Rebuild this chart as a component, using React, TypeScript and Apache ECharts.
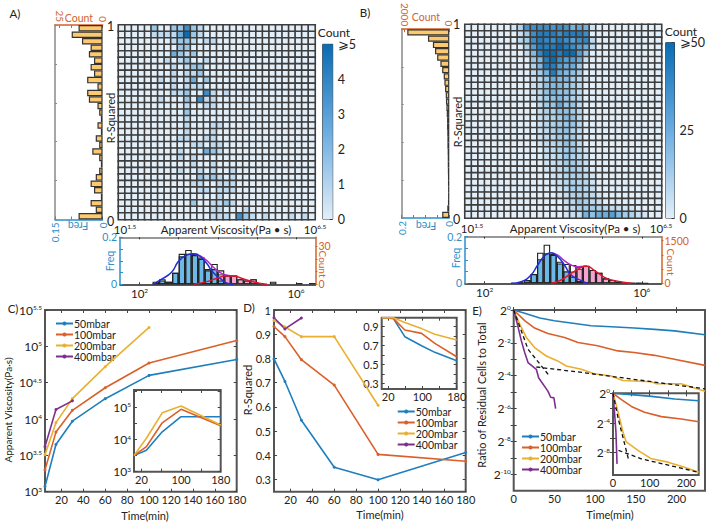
import React, { useEffect, useRef } from "react";
import * as echarts from "echarts";

const FONT = "Lato, 'Noto Sans', sans-serif";
const BLUE = "#2f8fc9";
const ORANGE = "#d2622f";
const C50 = "#1f7fbd";
const C100 = "#d9602a";
const C200 = "#e9b02f";
const C400 = "#7e2f8e";
const LEGEND = ["50mbar", "100mbar", "200mbar", "400mbar"];

// Heatmap rows, top (R-squared 1) to bottom (R-squared 0): {column: count}
const heatA: Record<number, number>[] = [
  { 5: 2, 8: 2, 9: 2, 10: 4, 11: 2, 12: 1 },
  { 5: 1, 6: 1, 7: 1, 8: 1, 9: 3, 10: 5, 11: 2, 12: 1 },
  { 8: 1, 9: 2, 10: 2, 11: 1, 13: 1, 14: 1 },
  { 9: 2, 10: 2 },
  { 8: 3, 9: 2, 10: 1, 11: 2 },
  { 7: 1, 9: 1, 10: 2, 13: 1 },
  { 8: 1, 10: 1, 11: 2, 12: 2 },
  { 8: 1, 10: 1, 11: 1, 12: 2 },
  { 6: 1, 8: 1, 10: 1, 11: 3, 13: 2 },
  { 8: 1, 10: 1, 11: 1, 12: 1 },
  { 8: 1, 9: 1, 10: 2, 13: 4, 14: 1, 16: 1 },
  { 6: 1, 10: 2, 12: 4, 13: 1, 14: 1 },
  { 10: 1, 13: 1, 14: 1 },
  { 10: 2 },
  { 10: 1 },
  { 10: 1, 14: 1, 15: 1 },
  { 10: 1, 14: 1 },
  { 9: 1, 10: 1, 13: 1, 14: 1 },
  { 11: 1, 12: 1, 14: 1, 15: 1 },
  { 9: 1, 13: 3, 14: 2, 15: 1 },
  { 9: 1, 11: 1 },
  { 11: 1, 14: 1 },
  { 9: 1, 12: 1, 14: 1, 17: 1 },
  { 12: 2, 13: 1, 14: 2, 15: 1, 17: 1 },
  { 11: 1, 12: 1, 15: 1, 16: 1, 17: 1 },
  { 12: 1, 13: 1, 15: 1, 16: 1, 17: 1 },
  { 15: 1 },
  { 11: 2, 14: 1, 15: 1, 16: 2, 17: 1 },
  { 14: 1, 15: 1, 19: 1 },
  { 14: 1, 15: 1, 16: 1, 18: 4, 19: 2, 20: 1, 22: 1, 26: 1, 28: 1 },
];
const heatB: Record<number, number>[] = [
  { 7: 5, 8: 15, 9: 38, 10: 40, 11: 40, 12: 40, 13: 38, 14: 40, 15: 38, 16: 28, 17: 32, 18: 28, 19: 6 },
  { 8: 8, 9: 18, 10: 40, 11: 45, 12: 45, 13: 45, 14: 40, 15: 45, 16: 45, 17: 45, 18: 40 },
  { 8: 12, 9: 18, 10: 40, 11: 45, 12: 42, 13: 40, 14: 45, 15: 40, 16: 35, 17: 40, 18: 42, 19: 10 },
  { 9: 15, 10: 35, 11: 45, 12: 45, 13: 45, 14: 50, 15: 45, 16: 40, 17: 35, 18: 30, 19: 10 },
  { 9: 8, 10: 25, 11: 42, 12: 50, 13: 50, 14: 45, 15: 50, 16: 50, 17: 35, 18: 20 },
  { 10: 20, 11: 25, 12: 45, 13: 50, 14: 40, 15: 35, 16: 35, 17: 30, 18: 8 },
  { 10: 15, 11: 25, 12: 45, 13: 45, 14: 35, 15: 30, 16: 30, 17: 18 },
  { 10: 10, 11: 18, 12: 28, 13: 45, 14: 30, 15: 25, 16: 22, 17: 18 },
  { 10: 8, 11: 12, 12: 20, 13: 30, 14: 25, 15: 25, 16: 18, 17: 12, 18: 5 },
  { 10: 8, 11: 12, 12: 22, 13: 25, 14: 25, 15: 20, 16: 18, 17: 12 },
  { 10: 6, 11: 12, 12: 22, 13: 28, 14: 22, 15: 22, 16: 18, 17: 10 },
  { 10: 5, 11: 10, 12: 18, 13: 22, 14: 25, 15: 20, 16: 15, 17: 12 },
  { 11: 10, 12: 18, 13: 20, 14: 32, 15: 20, 16: 20, 17: 10 },
  { 11: 8, 12: 15, 13: 15, 14: 22, 15: 22, 16: 18, 17: 12 },
  { 11: 8, 12: 12, 13: 15, 14: 18, 15: 25, 16: 22, 17: 12 },
  { 11: 6, 12: 12, 13: 15, 14: 18, 15: 20, 16: 20, 17: 12 },
  { 11: 6, 12: 10, 13: 15, 14: 20, 15: 22, 16: 15, 17: 10 },
  { 11: 6, 12: 10, 13: 12, 14: 18, 15: 18, 16: 18, 17: 10 },
  { 11: 5, 12: 10, 13: 12, 14: 15, 15: 22, 16: 18, 17: 10 },
  { 12: 8, 13: 10, 14: 15, 15: 18, 16: 20, 17: 12, 18: 5 },
  { 12: 8, 13: 8, 14: 12, 15: 20, 16: 15, 17: 12, 18: 6 },
  { 12: 6, 13: 8, 14: 10, 15: 18, 16: 18, 17: 14, 18: 8 },
  { 12: 5, 13: 6, 14: 10, 15: 15, 16: 18, 17: 14, 18: 8 },
  { 13: 6, 14: 8, 15: 14, 16: 15, 17: 15, 18: 10, 19: 5 },
  { 13: 5, 14: 8, 15: 12, 16: 16, 17: 14, 18: 12, 19: 6 },
  { 14: 6, 15: 10, 16: 16, 17: 16, 18: 12, 19: 8 },
  { 14: 5, 15: 8, 16: 14, 17: 16, 18: 14, 19: 10, 20: 5 },
  { 15: 8, 16: 12, 17: 20, 18: 16, 19: 12, 20: 8 },
  { 15: 6, 16: 10, 17: 16, 18: 18, 19: 18, 20: 15, 21: 12, 22: 10, 23: 8, 24: 6, 25: 5 },
  { 15: 5, 16: 8, 17: 10, 18: 28, 19: 22, 20: 30, 21: 30, 22: 35, 23: 25, 24: 18, 25: 15, 26: 8, 27: 5 },
];

// Side histograms, top to bottom
const sideA = [14, 18, 12, 7, 8, 5, 7, 5, 9, 3, 9, 8, 3, 2, 1, 3, 1, 4, 2, 6, 2, 1, 2, 4, 7, 5, 1, 7, 4, 14];
const sideB = [1885, 957, 736, 640, 545, 400, 320, 250, 220, 190, 160, 150, 130, 115, 100, 100, 90, 85, 85, 75, 70, 70, 65, 60, 60, 55, 55, 60, 90, 320];

// Lower histograms, 30 bins
const totalA = [0, 0, 0, 0, 0, 2, 4, 2, 9, 24, 27, 24, 21, 12, 16, 11, 7, 7, 4, 3, 4, 1, 0, 2, 0, 0, 0, 1, 0, 1];
const blueA = [0, 0, 0, 0, 0, 1, 3, 2, 9, 22, 24, 23, 20, 11, 12, 3, 0, 0, 0, 0, 0, 0, 0, 0, 0, 0, 0, 0, 0, 0];
const pinkA = [0, 0, 0, 0, 0, 0, 0, 0, 0, 0, 0, 1, 2, 6, 8, 8, 7, 7, 4, 3, 4, 1, 0, 0, 0, 0, 0, 0, 0, 0];
const totalB = [0, 0, 0, 0, 0, 0, 0, 0, 35, 117, 328, 1078, 1359, 1031, 761, 680, 645, 586, 609, 469, 375, 176, 117, 59, 35, 23, 10, 5, 0, 0];
const blueB = [0, 0, 0, 0, 0, 0, 0, 0, 30, 110, 320, 850, 1060, 1000, 700, 420, 230, 80, 0, 0, 0, 0, 0, 0, 0, 0, 0, 0, 0, 0];
const pinkB = [0, 0, 0, 0, 0, 0, 0, 0, 0, 0, 0, 0, 0, 50, 100, 260, 415, 506, 609, 469, 375, 176, 117, 59, 35, 0, 0, 0, 0, 0];

// Fit curves: [log10 viscosity, count]
const fitBlueA = [[2.35, 0], [2.53, 3.4], [2.82, 9.5], [2.99, 17.9], [3.17, 22.6], [3.38, 24.1], [3.55, 22], [3.72, 16.3], [3.89, 9], [4.06, 4.7], [4.24, 0.8], [4.41, 0]];
const fitRedA = [[3.38, 0], [3.72, 2.1], [3.98, 4.7], [4.24, 6.8], [4.41, 6.5], [4.66, 4.2], [5, 1.3], [5.26, 0]];
const fitMixA = [[3.38, 24.1], [3.55, 22.3], [3.72, 18.6], [3.89, 13.4], [4.06, 9.2], [4.24, 7.1], [4.41, 6.5]];
const fitBlueB = [[2.67, 0], [2.93, 59], [3.18, 293], [3.35, 644], [3.52, 960], [3.69, 1078], [3.86, 937], [4.03, 644], [4.2, 293], [4.46, 94], [4.63, 0]];
const fitRedB = [[3.69, 0], [3.95, 117], [4.2, 351], [4.46, 562], [4.59, 609], [4.8, 445], [5.05, 211], [5.31, 94], [5.73, 0]];
const fitMixB = [[3.69, 1078], [3.86, 994], [4.03, 795], [4.2, 643], [4.37, 586], [4.59, 609]];

// Panel C: log10 viscosity
const timeC = [5, 15, 30, 60, 100, 180];
const c50 = [3.07, 3.65, 3.97, 4.28, 4.6, 4.82];
const c100 = [3.3, 3.82, 4.12, 4.43, 4.77, 5.08];
const c200 = [3.51, 3.95, 4.28, 4.72, 5.26];
const c400 = [3.62, 4.13, 4.25];
const timeCi = [5, 30, 62, 100, 180];
const c50i = [3.5, 3.67, 4.24, 4.71, 4.71];
const c100i = [3.5, 3.78, 4.52, 4.94, 4.43];
const c200i = [3.5, 4.04, 4.83, 5.04, 4.45];

// Panel D: R-squared
const d50 = [0.798, 0.705, 0.545, 0.351, 0.299, 0.412];
const d100 = [0.932, 0.89, 0.795, 0.69, 0.404, 0.376];
const d200 = [0.957, 0.93, 0.89, 0.89, 0.607];
const d400 = [0.968, 0.922, 0.967];
const timeDi = [5, 32, 59, 98, 129, 180];
const d50i = [0.995, 0.988, 0.795, 0.7, 0.63, 0.542];
const d100i = [0.995, 0.988, 0.865, 0.83, 0.725, 0.584];
const d200i = [0.995, 0.995, 0.945, 0.88, 0.82, 0.76];

// Panel E: log2 ratio
const e50t = [0, 13.5, 32, 50, 75, 95, 120, 148, 173, 197.4, 235];
const e50 = [0, -0.2, -0.49, -0.65, -0.82, -0.96, -1.02, -1.1, -1.18, -1.27, -1.51];
const e100t = [0, 13.5, 25.7, 42, 62.5, 79, 103, 128, 148, 173, 197.4, 235];
const e100 = [0, -0.65, -1.1, -1.43, -1.67, -1.98, -2.18, -2.49, -2.59, -2.76, -3, -3.37];
const e200t = [0, 7.4, 15.5, 25.7, 40, 54, 64.6, 83, 99, 120, 134, 169, 175, 205.6, 235];
const e200 = [0, -0.86, -1.67, -2.29, -2.8, -3.1, -3.41, -3.61, -3.88, -4.02, -4.29, -4.37, -4.49, -4.49, -4.94];
const e400t = [0, 4.5, 9.4, 13.5, 17.6, 27.8, 30.6, 42, 45.4, 49.4, 51.5];
const e400 = [0, -0.86, -1.88, -2.59, -3.2, -3.61, -4.12, -4.94, -5.31, -5.35, -6];
const eFit1t = [0, 17.6, 44];
const eFit1 = [0, -2.39, -4.02];
const eFit2t = [27.8, 87, 235];
const eFit2 = [-3.47, -3.82, -4.8];
const e50it = [0, 50, 105, 168, 234];
const e50i = [0, -0.18, -0.41, -0.77, -1];
const e100it = [0, 23, 50, 86, 132, 186, 234];
const e100i = [0, -0.86, -1.77, -2.55, -3.14, -3.45, -3.82];
const e200it = [0, 11, 27, 36, 68, 105, 150, 195, 234];
const e200i = [0, -2, -5.18, -6.55, -7.68, -8.82, -9.27, -9.95, -10.64];
const e400it = [0, 4, 8, 11];
const e400i = [0, -2.45, -5.2, -9.5];
const eFit1it = [0, 14, 43];
const eFit1i = [0, -3.36, -9.05];
const eFit2it = [15, 77, 234];
const eFit2i = [-7.68, -8.82, -10.64];

const idx30 = Array.from({ length: 30 }, (_, i) => i);
const sup = (b: string, s: string | number) => `{b|${b}}{s|${s}}`;
const richFor = (size = 12, sizeS = 6.5) => ({
  b: { fontSize: size, fontFamily: FONT, color: "#222" },
  s: { fontSize: sizeS, fontFamily: FONT, color: "#222", verticalAlign: "top" },
});
const zip = (x: number[], y: number[]) => x.map((v, i) => [v, y[i]]);
const plain = (v: number) => `${v}`;

function buildOption() {
  const grid: any[] = [];
  const xAxis: any[] = [];
  const yAxis: any[] = [];
  const series: any[] = [];
  const graphic: any[] = [];
  const visualMap: any[] = [];
  const legend: any[] = [];

  const text = (t: string, x: number, y: number, o: any = {}) =>
    graphic.push({
      type: "text",
      x,
      y,
      rotation: o.rot ?? 0,
      silent: true,
      style: {
        text: t,
        fontSize: o.size ?? 11.5,
        fontFamily: FONT,
        fill: o.color ?? "#222",
        align: "center",
        verticalAlign: "middle",
        rich: o.rich,
      },
    });

  const hiddenCat = (gridIndex: number, extra: any = {}) => ({
    type: "category",
    gridIndex,
    data: idx30,
    axisLine: { show: false },
    axisTick: { show: false },
    axisLabel: { show: false },
    splitLine: { show: false },
    ...extra,
  });

  function heat(left: number, top: number, w: number, h: number, rows: Record<number, number>[], max: number) {
    const g = grid.length;
    const xi = xAxis.length;
    const yi = yAxis.length;
    grid.push({ left, top, width: w, height: h });
    xAxis.push(hiddenCat(g));
    yAxis.push(hiddenCat(g, { inverse: true }));
    const data: number[][] = [];
    rows.forEach((row, r) => idx30.forEach((c) => data.push([c, r, row[c] ?? 0])));
    visualMap.push({
      show: false,
      min: 0,
      max,
      dimension: 2,
      seriesIndex: series.length,
      inRange: { color: ["#e2eef8", "#a9cfea", "#5ea5d8", "#0a6cb3"] },
    });
    series.push({
      type: "heatmap",
      xAxisIndex: xi,
      yAxisIndex: yi,
      data,
      itemStyle: { borderColor: "#3d3d3d", borderWidth: 1.6 },
      emphasis: { disabled: true },
    });
  }

  function colorbar(left: number, top: number, h: number, max: number, labels: number[], ticks: number[]) {
    const g = grid.length;
    const xi = xAxis.length;
    const yi = yAxis.length;
    grid.push({ left, top, width: 10, height: h, show: true, borderColor: "#333", borderWidth: 1 });
    xAxis.push({ type: "category", gridIndex: g, data: ["c"], show: false });
    yAxis.push({
      type: "value",
      gridIndex: g,
      min: 0,
      max,
      position: "right",
      splitLine: { show: false },
      axisLine: { show: false },
      axisTick: { show: true, inside: true, length: 3, customValues: ticks, lineStyle: { color: "#333" } },
      axisLabel: {
        customValues: labels,
        margin: 5,
        fontSize: 12.5,
        fontFamily: FONT,
        color: "#222",
        formatter: (v: number) => (v === max ? `⩾${v}` : `${v}`),
      },
    });
    series.push({
      type: "bar",
      xAxisIndex: xi,
      yAxisIndex: yi,
      data: [max],
      barWidth: "100%",
      silent: true,
      itemStyle: {
        color: new echarts.graphic.LinearGradient(0, 0, 0, 1, [
          { offset: 0, color: "#0a6cb3" },
          { offset: 0.5, color: "#6cace0" },
          { offset: 1, color: "#e2eef8" },
        ]),
      },
    });
  }

  function side(
    left: number,
    top: number,
    w: number,
    h: number,
    values: number[],
    countMax: number,
    countLabels: number[],
    countTicks: number[],
    freqMax: number,
    freqLabels: number[],
  ) {
    const g = grid.length;
    grid.push({ left, top, width: w, height: h });
    const xi = xAxis.length;
    const yi = yAxis.length;
    const valAxis = (position: string, max: number, color: string, labels: number[], ticks: number[]) => ({
      type: "value",
      gridIndex: g,
      position,
      inverse: true,
      min: 0,
      max,
      splitLine: { show: false },
      axisLine: { show: true, onZero: false, lineStyle: { color, width: 1.5 } },
      axisTick: { show: true, inside: true, length: 3, customValues: ticks, lineStyle: { color } },
      axisLabel: { customValues: labels, rotate: 90, margin: 3, fontSize: 10, fontFamily: FONT, color, formatter: plain },
    });
    const freqTicks: number[] = [];
    for (let i = 0; i * 0.05 <= freqMax + 1e-9; i++) freqTicks.push(+(i * 0.05).toFixed(2));
    xAxis.push(valAxis("top", countMax, ORANGE, countLabels, countTicks));
    xAxis.push(valAxis("bottom", freqMax, BLUE, freqLabels, freqTicks));
    yAxis.push({
      type: "category",
      gridIndex: g,
      inverse: true,
      data: idx30,
      position: "left",
      axisLine: { show: true, onZero: false, lineStyle: { color: "#888", width: 1.5 } },
      axisTick: { show: true, inside: true, length: 2, interval: 5, lineStyle: { color: "#888" } },
      axisLabel: { show: false },
    });
    series.push({
      type: "bar",
      xAxisIndex: xi,
      yAxisIndex: yi,
      data: values,
      barWidth: "100%",
      silent: true,
      itemStyle: { color: "#fcc96f", borderColor: "#333", borderWidth: 1.2 },
    });
  }

  function lower(
    left: number,
    top: number,
    w: number,
    h: number,
    total: number[],
    blue: number[],
    pink: number[],
    countMax: number,
    countLabels: number[],
    countTicks: number[],
    fits: { fb: number[][]; fr: number[][]; fm: number[][] },
  ) {
    const g = grid.length;
    grid.push({ left, top, width: w, height: h });
    const xi = xAxis.length;
    const yi = yAxis.length;
    const decades = [2, 3, 4, 5, 6];
    xAxis.push({
      type: "value",
      gridIndex: g,
      position: "bottom",
      min: 1.5,
      max: 6.5,
      splitLine: { show: false },
      axisLine: { show: true, onZero: false, lineStyle: { color: "#222", width: 1.5 } },
      axisTick: { show: true, inside: true, length: 2, customValues: decades, lineStyle: { color: "#333" } },
      axisLabel: {
        customValues: [2, 6],
        margin: 3,
        formatter: (v: number) => sup("10", v),
        rich: richFor(11.5, 6.5),
        fontFamily: FONT,
      },
    });
    xAxis.push({
      type: "value",
      gridIndex: g,
      position: "top",
      min: 1.5,
      max: 6.5,
      splitLine: { show: false },
      axisLine: { show: true, onZero: false, lineStyle: { color: "#777", width: 1.5 } },
      axisTick: { show: true, inside: true, length: 2, customValues: decades, lineStyle: { color: "#333" } },
      axisLabel: { show: false },
    });
    xAxis.push(hiddenCat(g));
    yAxis.push({
      type: "value",
      gridIndex: g,
      position: "left",
      min: 0,
      max: 0.2,
      splitLine: { show: false },
      axisLine: { show: true, onZero: false, lineStyle: { color: BLUE, width: 1.5 } },
      axisTick: { show: true, inside: true, length: 3, customValues: [0, 0.05, 0.1, 0.15, 0.2], lineStyle: { color: BLUE } },
      axisLabel: { customValues: [0, 0.2], margin: 3, fontSize: 10.5, fontFamily: FONT, color: BLUE, formatter: plain },
    });
    yAxis.push({
      type: "value",
      gridIndex: g,
      position: "right",
      min: 0,
      max: countMax,
      splitLine: { show: false },
      axisLine: { show: true, onZero: false, lineStyle: { color: ORANGE, width: 1.5 } },
      axisTick: { show: true, inside: false, length: 2, customValues: countTicks, lineStyle: { color: ORANGE } },
      axisLabel: { customValues: countLabels, margin: 3, fontSize: 10.5, fontFamily: FONT, color: ORANGE, formatter: plain },
    });
    const bars = (values: number[], fill: string, border: string, z: number) => ({
      type: "bar",
      xAxisIndex: xi + 2,
      yAxisIndex: yi + 1,
      barWidth: "100%",
      barGap: "-100%",
      silent: true,
      z,
      data: values.map((v) => (v > 0 ? v : null)),
      itemStyle: { color: fill, borderColor: border, borderWidth: 1.1 },
    });
    series.push(bars(pink, "#f7a3d2", "#555", 2));
    series.push(bars(blue, "#6cb9e8", "#222", 3));
    series.push(bars(total, "rgba(255,255,255,0)", "#222", 4));
    const fit = (d: number[][], color: string, z: number) => ({
      type: "line",
      xAxisIndex: xi,
      yAxisIndex: yi + 1,
      data: d,
      smooth: true,
      symbol: "none",
      silent: true,
      z,
      lineStyle: { color, width: 1.5 },
    });
    series.push(fit(fits.fm, "#b02ec4", 5));
    series.push(fit(fits.fb, "#1f2fd8", 6));
    series.push(fit(fits.fr, "#e0142c", 6));
  }

  function panel(
    left: number,
    top: number,
    w: number,
    h: number,
    xr: { min: number; max: number; labels: number[]; ticks: number[]; fmt?: any },
    yr: { min: number; max: number; labels: number[]; ticks: number[]; fmt?: any },
    size = 11,
  ) {
    const g = grid.length;
    grid.push({ left, top, width: w, height: h, show: true, borderColor: "#555", borderWidth: 2, backgroundColor: "#fff" });
    const xi = xAxis.length;
    const yi = yAxis.length;
    const common = { gridIndex: g, type: "value", splitLine: { show: false }, axisLine: { show: false } };
    const tick = (vals: number[]) => ({ show: true, inside: true, length: 3, customValues: vals, lineStyle: { color: "#444" } });
    const lab = (vals: number[], fmt: any, margin: number) => ({
      customValues: vals,
      margin,
      fontSize: size,
      fontFamily: FONT,
      color: "#222",
      formatter: fmt ?? plain,
      rich: richFor(size + 1, 6.5),
    });
    xAxis.push({ ...common, position: "bottom", min: xr.min, max: xr.max, axisTick: tick(xr.ticks), axisLabel: lab(xr.labels, xr.fmt, 2) });
    xAxis.push({ ...common, position: "top", min: xr.min, max: xr.max, axisTick: tick(xr.ticks), axisLabel: { show: false } });
    yAxis.push({ ...common, position: "left", min: yr.min, max: yr.max, axisTick: tick(yr.ticks), axisLabel: lab(yr.labels, yr.fmt, 3) });
    yAxis.push({ ...common, position: "right", min: yr.min, max: yr.max, axisTick: tick(yr.ticks), axisLabel: { show: false } });
    return { xi, yi };
  }

  const line = (
    name: string,
    x: number[],
    y: number[],
    color: string,
    p: { xi: number; yi: number },
    marker: boolean,
    extra: any = {},
  ) =>
    series.push({
      type: "line",
      name,
      xAxisIndex: p.xi,
      yAxisIndex: p.yi,
      data: zip(x, y),
      symbol: marker ? "circle" : "none",
      symbolSize: 3,
      silent: true,
      z: 5,
      lineStyle: { color, width: 1.6 },
      itemStyle: { color },
      ...extra,
    });
  const dashed = (x: number[], y: number[], p: { xi: number; yi: number }) =>
    line("fit", x, y, "#111", p, false, { z: 6, lineStyle: { color: "#111", width: 1.3, type: [4, 3] } });

  const addLegend = (left: number, top: number) =>
    legend.push({
      data: LEGEND,
      left,
      top,
      orient: "vertical",
      itemGap: 0,
      itemWidth: 17,
      itemHeight: 5,
      selectedMode: false,
      padding: 0,
      textStyle: { fontSize: 10.5, fontFamily: FONT, color: "#222", padding: [0, 0, 0, -4] },
    });

  // ---- Panel A ----
  heat(118.5, 25, 196.5, 194.5, heatA, 5);
  colorbar(322.7, 44.3, 174.7, 5, [0, 1, 2, 3, 4, 5], [0, 0.5, 1, 1.5, 2, 2.5, 3, 3.5, 4, 4.5, 5]);
  side(55, 25, 47.6, 194.5, sideA, 27.7, [0, 25], [0, 9, 18, 25], 0.15, [0, 0.15]);
  lower(120, 237.3, 195.5, 47, totalA, blueA, pinkA, 37, [0, 30], [0, 10, 20, 30], { fb: fitBlueA, fr: fitRedA, fm: fitMixA });

  // ---- Panel B ----
  heat(465, 24.5, 196.5, 193.5, heatB, 50);
  colorbar(665.7, 42.7, 175.3, 50, [0, 25, 50], [0, 5, 10, 15, 20, 25, 30, 35, 40, 45, 50]);
  side(401.7, 24.5, 47.6, 193.5, sideB, 2135, [0, 2000], [0, 500, 1000, 1500, 2000], 0.2, [0, 0.2]);
  lower(465, 236.7, 196.5, 46.6, totalB, blueB, pinkB, 1640, [0, 1500], [0, 500, 1000, 1500], { fb: fitBlueB, fr: fitRedB, fm: fitMixB });

  // ---- Panel C ----
  const xTime = { min: 5, max: 180, labels: [20, 40, 60, 80, 100, 120, 140, 160, 180], ticks: [20, 40, 60, 80, 100, 120, 140, 160, 180] };
  const cMain = panel(45, 310, 191.7, 181.7, xTime, {
    min: 3,
    max: 5.5,
    labels: [3, 3.5, 4, 4.5, 5, 5.5],
    ticks: [3, 3.5, 4, 4.5, 5, 5.5],
    fmt: (v: number) => sup("10", v),
  });
  line("50mbar", timeC, c50, C50, cMain, true);
  line("100mbar", timeC, c100, C100, cMain, true);
  line("200mbar", timeC.slice(0, 5), c200, C200, cMain, true);
  line("400mbar", timeC.slice(0, 3), c400, C400, cMain, true);
  const cIn = panel(134, 390, 86.7, 81.7, { min: 5, max: 180, labels: [20, 100, 180], ticks: [20, 60, 100, 140, 180] }, {
    min: 3,
    max: 5.54,
    labels: [3, 4, 5],
    ticks: [3, 3.5, 4, 4.5, 5, 5.5],
    fmt: (v: number) => sup("10", v),
  });
  line("50mbar", timeCi, c50i, C50, cIn, false);
  line("100mbar", timeCi, c100i, C100, cIn, false);
  line("200mbar", timeCi, c200i, C200, cIn, false);

  // ---- Panel D ----
  const dMain = panel(274, 310, 191.7, 181.7, xTime, {
    min: 0.25,
    max: 1,
    labels: [0.3, 0.4, 0.5, 0.6, 0.7, 0.8, 0.9, 1],
    ticks: [0.3, 0.4, 0.5, 0.6, 0.7, 0.8, 0.9, 1],
  });
  line("50mbar", timeC, d50, C50, dMain, true);
  line("100mbar", timeC, d100, C100, dMain, true);
  line("200mbar", timeC.slice(0, 5), d200, C200, dMain, true);
  line("400mbar", timeC.slice(0, 3), d400, C400, dMain, true);
  const dIn = panel(381.7, 317.7, 75, 71.3, { min: 5, max: 180, labels: [20, 100, 180], ticks: [20, 60, 100, 140, 180] }, {
    min: 0.244,
    max: 0.995,
    labels: [0.3, 0.5, 0.7, 0.9],
    ticks: [0.3, 0.4, 0.5, 0.6, 0.7, 0.8, 0.9],
  });
  line("50mbar", timeDi, d50i, C50, dIn, false);
  line("100mbar", timeDi, d100i, C100, dIn, false);
  line("200mbar", timeDi, d200i, C200, dIn, false);

  // ---- Panel E ----
  const eMain = panel(513.7, 310, 191.3, 180.7, { min: 0, max: 235, labels: [0, 50, 100, 150, 200], ticks: [0, 50, 100, 150, 200] }, {
    min: -11,
    max: 0,
    labels: [-10, -8, -6, -4, -2, 0],
    ticks: [-10, -9, -8, -7, -6, -5, -4, -3, -2, -1, 0],
    fmt: (v: number) => sup("2", v),
  });
  line("50mbar", e50t, e50, C50, eMain, false);
  line("100mbar", e100t, e100, C100, eMain, false);
  line("200mbar", e200t, e200, C200, eMain, false);
  line("400mbar", e400t, e400, C400, eMain, false);
  dashed(eFit1t, eFit1, eMain);
  dashed(eFit2t, eFit2, eMain);
  const eIn = panel(613, 393.3, 85.7, 81.7, { min: 0, max: 233.6, labels: [0, 100, 200], ticks: [0, 50, 100, 150, 200] }, {
    min: -11,
    max: 0,
    labels: [-8, -4, 0],
    ticks: [-8, -6, -4, -2, 0],
    fmt: (v: number) => sup("2", v),
  });
  line("50mbar", e50it, e50i, C50, eIn, false);
  line("100mbar", e100it, e100i, C100, eIn, false);
  line("200mbar", e200it, e200i, C200, eIn, false);
  line("400mbar", e400it, e400i, C400, eIn, false);
  dashed(eFit1it, eFit1i, eIn);
  dashed(eFit2it, eFit2i, eIn);

  addLegend(55, 318);
  addLegend(396.7, 406);
  addLegend(521, 431);

  // ---- Texts ----
  text("A)", 15, 13);
  text("B)", 365, 12);
  text("C)", 13, 308);
  text("D)", 249, 307);
  text("E)", 477, 310);

  text("1", 110.6, 26, { size: 12.5 });
  text("0", 110.6, 221, { size: 12.5 });
  text("1", 456.7, 24, { size: 12.5 });
  text("0", 456.7, 219, { size: 12.5 });
  const r = richFor(11.5, 6.5);
  text(sup("10", "1.5"), 125, 229, { rich: r });
  text(sup("10", "6.5"), 315, 229, { rich: r });
  text(sup("10", "1.5"), 472, 228, { rich: r });
  text(sup("10", "6.5"), 661, 228, { rich: r });
  text("Apparent Viscosity(Pa • s)", 226, 229, { size: 11.5 });
  text("Apparent Viscosity(Pa • s)", 575, 228, { size: 11.5 });
  text("R-Squared", 110, 118, { rot: Math.PI / 2, size: 11 });
  text("R-Squared", 457, 122, { rot: Math.PI / 2, size: 11 });
  text("Count", 334, 32, { size: 12 });
  text("Count", 681, 31, { size: 12 });
  text("Count", 79, 18, { color: ORANGE, size: 10.5 });
  text("Count", 426, 17, { color: ORANGE, size: 10.5 });
  text("Freq", 78, 226, { color: BLUE, size: 10.5, rot: Math.PI });
  text("Freq", 426, 226, { color: BLUE, size: 10.5, rot: Math.PI });
  text("Freq", 110, 261, { color: BLUE, size: 10.5, rot: Math.PI / 2 });
  text("Freq", 456, 258, { color: BLUE, size: 10.5, rot: Math.PI / 2 });
  text("Count", 323, 264, { color: ORANGE, size: 10, rot: -Math.PI / 2 });
  text("Count", 671, 262, { color: ORANGE, size: 10, rot: -Math.PI / 2 });

  text("Time(min)", 145, 515, { size: 11 });
  text("Time(min)", 380, 514, { size: 11 });
  text("Time(min)", 610, 514, { size: 11 });
  text("Apparent Viscosity(Pa·s)", 8, 410, { rot: Math.PI / 2, size: 10 });
  text("R-Squared", 247, 390, { rot: Math.PI / 2, size: 11 });
  text("Ratio of Residual Cells to Total", 481, 395, { rot: Math.PI / 2, size: 11 });

  return { animation: false, backgroundColor: "#fff", grid, xAxis, yAxis, series, visualMap, legend, graphic };
}

export default function App() {
  const ref = useRef<HTMLDivElement>(null);
  useEffect(() => {
    document.body.style.margin = "0";
    const chart = echarts.init(ref.current!, undefined, { renderer: "svg" });
    chart.setOption(buildOption() as any);
    return () => chart.dispose();
  }, []);
  return <div ref={ref} style={{ width: 708, height: 524 }} />;
}
